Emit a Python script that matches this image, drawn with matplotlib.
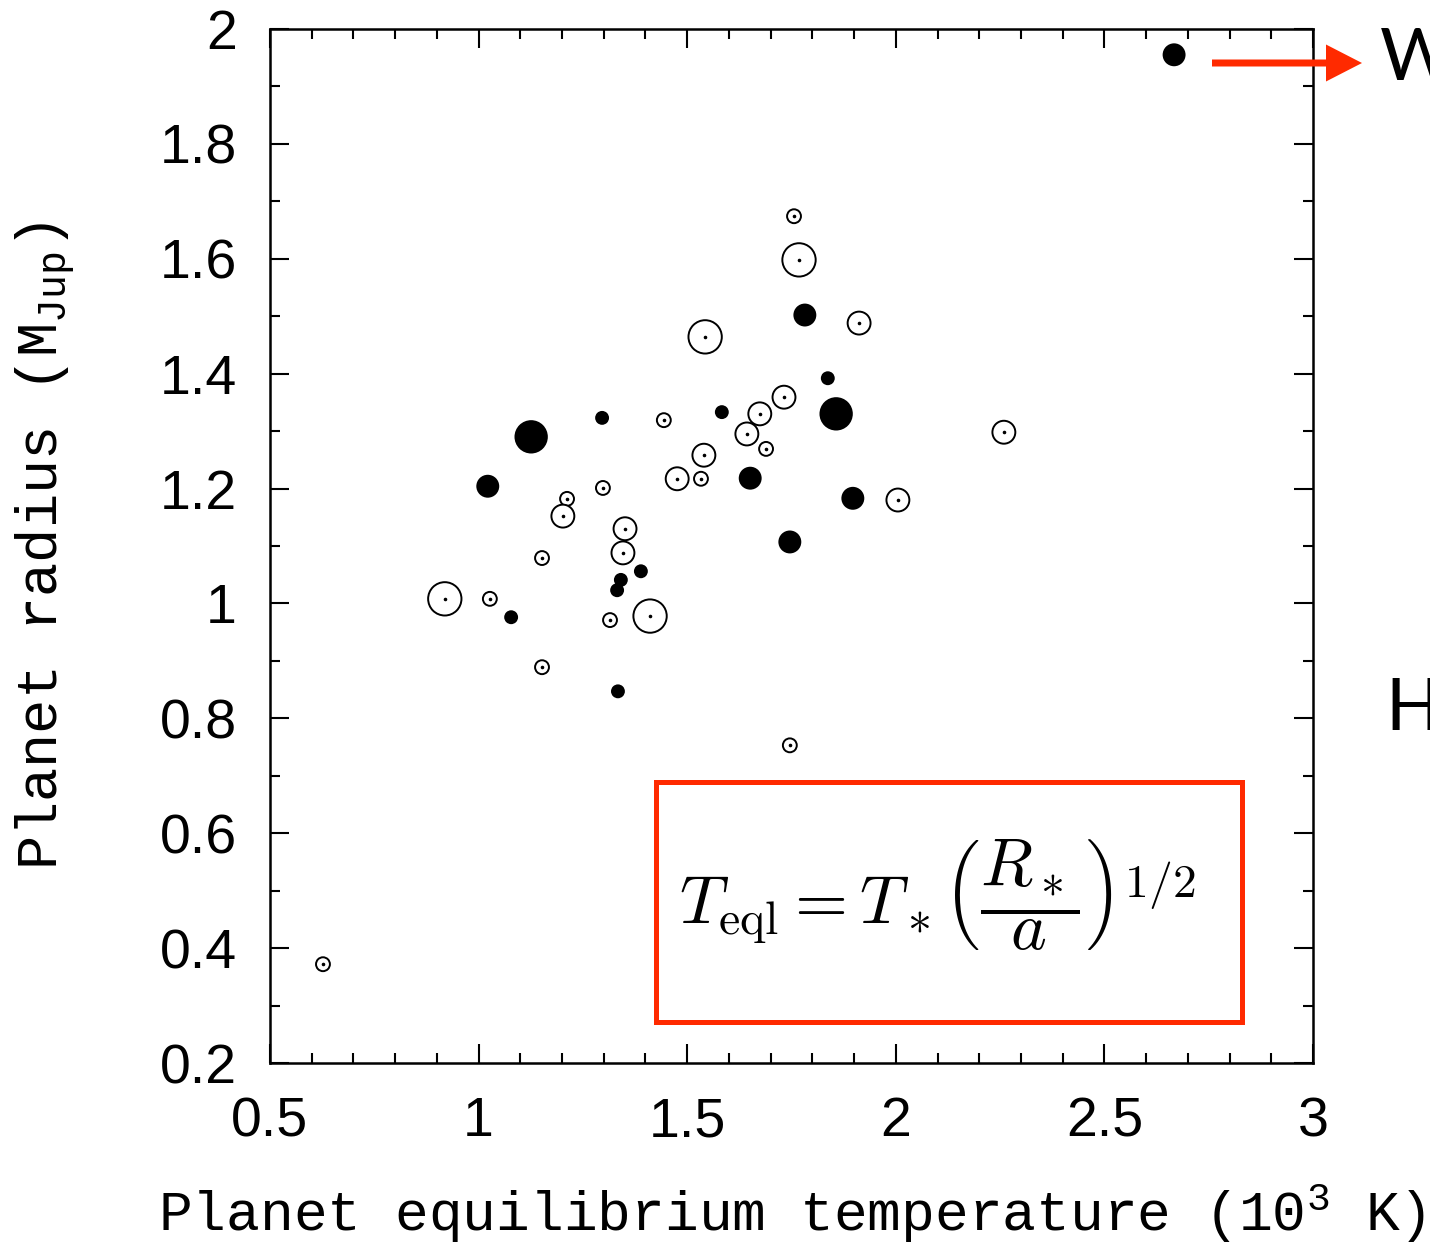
"""Planet radius vs equilibrium temperature, with the T_eql formula box."""

import matplotlib

matplotlib.use("Agg")
import matplotlib.pyplot as plt  # noqa: E402
from matplotlib.patches import FancyArrow, Rectangle  # noqa: E402
from matplotlib.ticker import MultipleLocator  # noqa: E402
from matplotlib.transforms import IdentityTransform  # noqa: E402

# open circles (with a dot in the centre)
open_temp = [1.756, 1.768, 1.912, 1.543, 1.732, 1.674, 1.444, 1.643, 1.689,
             1.540, 1.476, 1.533, 2.259, 2.005, 1.298, 1.212, 1.202, 1.351,
             1.346, 1.152, 0.919, 1.027, 1.315, 1.411, 1.152, 1.746, 0.627]
open_radius = [1.674, 1.598, 1.488, 1.464, 1.359, 1.330, 1.319, 1.295, 1.269,
               1.258, 1.217, 1.217, 1.298, 1.180, 1.201, 1.182, 1.152, 1.130,
               1.088, 1.079, 1.008, 1.008, 0.971, 0.978, 0.889, 0.753, 0.372]
open_size = ["s", "l", "m", "l", "m", "m", "s", "m", "s",
             "m", "m", "s", "m", "m", "s", "s", "m", "m",
             "m", "s", "l", "s", "s", "l", "s", "s", "s"]

# filled circles
filled_temp = [2.667, 1.782, 1.837, 1.126, 1.296, 1.583, 1.857, 1.022,
               1.651, 1.897, 1.746, 1.389, 1.341, 1.332, 1.078, 1.334]
filled_radius = [1.955, 1.502, 1.392, 1.290, 1.323, 1.333, 1.330, 1.204,
                 1.218, 1.183, 1.107, 1.056, 1.041, 1.023, 0.976, 0.847]
filled_size = ["m", "m", "s", "l", "s", "s", "l", "m",
               "m", "m", "m", "s", "s", "s", "s", "s"]

x_ticks = [0.5, 1, 1.5, 2, 2.5, 3]
y_ticks = [0.2, 0.4, 0.6, 0.8, 1, 1.2, 1.4, 1.6, 1.8, 2]

DIAM = {"s": 10.0, "m": 16.5, "l": 24.0}  # marker diameter in points
RED = "#ff2a00"

plt.rcParams["mathtext.fontset"] = "custom"
plt.rcParams["mathtext.rm"] = "Liberation Mono"
plt.rcParams["mathtext.it"] = "Liberation Mono"


def label_fmt(v):
    return f"{v:g}"


def main():
    fig = plt.figure(figsize=(14.3, 12.42), dpi=100)
    ax = fig.add_axes([0.1888, 0.1441, 0.7294, 0.8326])

    ax.scatter(open_temp, open_radius, s=[DIAM[k] ** 2 for k in open_size],
               facecolors="white", edgecolors="black", linewidths=1.4, zorder=3)
    ax.scatter(open_temp, open_radius, s=2.5, color="black", zorder=4)
    ax.scatter(filled_temp, filled_radius,
               s=[DIAM[k] ** 2 for k in filled_size],
               color="black", linewidths=0, zorder=3)

    ax.set_xlim(0.5, 3)
    ax.set_ylim(0.2, 2)
    ax.set_xticks(x_ticks)
    ax.set_xticklabels([label_fmt(v) for v in x_ticks])
    ax.set_yticks(y_ticks)
    ax.set_yticklabels([label_fmt(v) for v in y_ticks])
    ax.xaxis.set_minor_locator(MultipleLocator(0.1))
    ax.yaxis.set_minor_locator(MultipleLocator(0.1))
    ax.tick_params(which="both", direction="in", top=True, right=True,
                   width=1.5, labelsize=40)
    ax.tick_params(which="major", length=14)
    ax.tick_params(which="minor", length=7)
    ax.tick_params(axis="x", pad=24)
    ax.tick_params(axis="y", pad=24)
    for lab in ax.get_xticklabels() + ax.get_yticklabels():
        lab.set_fontfamily("Liberation Sans")
    for sp in ax.spines.values():
        sp.set_linewidth(1.8)

    ax.set_xlabel("Planet equilibrium temperature (10$^{3}$ K)",
                  fontfamily="Liberation Mono", fontsize=40.5, labelpad=24)
    ax.set_ylabel(r"Planet radius (M$_{\rm Jup}$)",
                  fontfamily="Liberation Mono", fontsize=41, labelpad=60)

    # formula box
    ax.add_patch(Rectangle((0.370, 0.0397), 0.562, 0.2321,
                           transform=ax.transAxes, fill=False,
                           edgecolor=RED, linewidth=3.6, zorder=5,
                           clip_on=False))
    ax.text(0.640, 0.163,
            r"$T_{\rm eql} = T_*\left(\dfrac{R_*}{a}\right)^{1/2}$",
            transform=ax.transAxes, ha="center", va="center",
            fontsize=49, math_fontfamily="cm", zorder=6)

    # slide decorations on the right
    fig.add_artist(FancyArrow(1212, 1179, 150, 0, width=7, head_width=37,
                              head_length=36, length_includes_head=True,
                              color=RED, linewidth=0,
                              transform=IdentityTransform()))
    fig.text(1380 / 1430, 1 - 80 / 1242, "W", fontfamily="Lato",
             fontsize=52, va="baseline", ha="left")
    fig.text(1385 / 1430, 1 - 730 / 1242, "H", fontfamily="Lato",
             fontsize=52, va="baseline", ha="left")

    fig.savefig("out.png", dpi=100)
    plt.close(fig)


if __name__ == "__main__":
    main()
